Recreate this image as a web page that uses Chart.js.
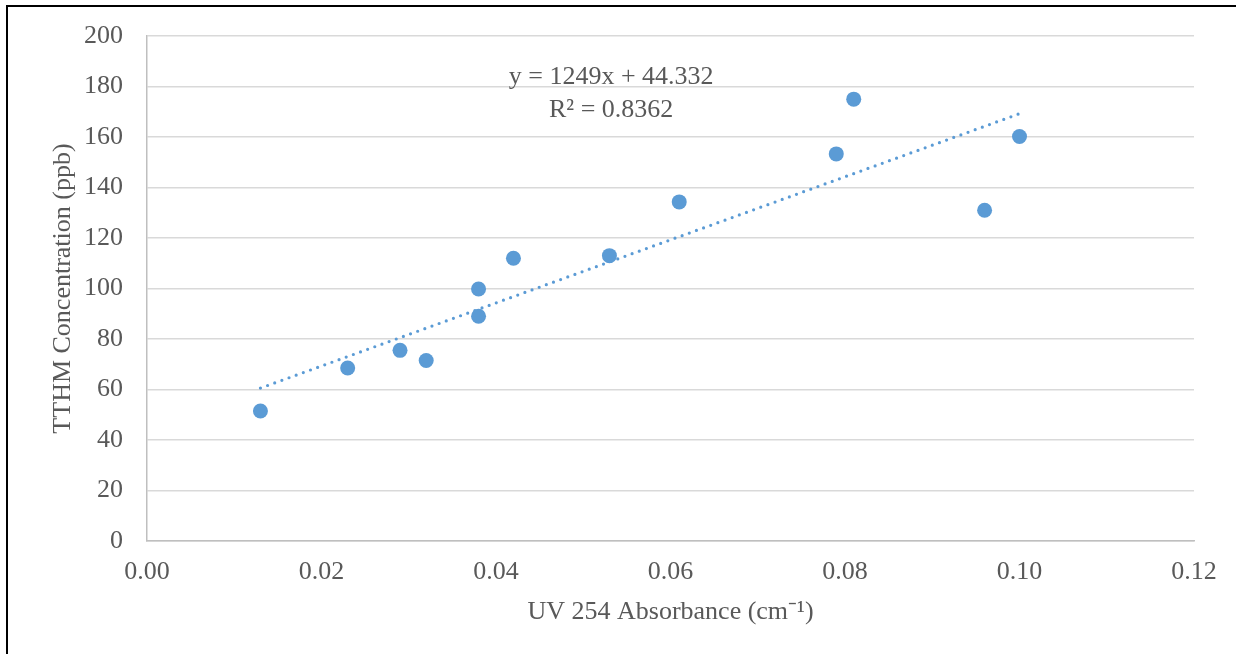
<!DOCTYPE html>
<html>
<head>
<meta charset="utf-8">
<script src="https://cdn.jsdelivr.net/npm/chart.js@4/dist/chart.umd.min.js"></script>
<style>
    html, body { margin: 0; padding: 0; background: #fff; }
    #wrap { position: relative; width: 1236px; height: 654px; }
    #frame { position: absolute; left: 6px; top: 5px; right: -10px; bottom: -10px; border-left: 2px solid #000; border-top: 2px solid #000; pointer-events: none; }
</style>
</head>
<body>
<div id="wrap">
    <canvas id="chart" width="1236" height="654"></canvas>
    <div id="frame"></div>
</div>
<script>
// UV254 absorbance (cm-1) vs TTHM concentration (ppb)
const absorbance = [0.013, 0.023, 0.029, 0.032, 0.038, 0.038, 0.042, 0.053, 0.061, 0.079, 0.081, 0.096, 0.100];
const tthm = [51.5, 68.5, 75.5, 71.5, 99.8, 89, 112, 113, 134.3, 153.3, 175, 131, 160.2];

// linear trendline from the reference
const slope = 1249;
const intercept = 44.332;
const trendX = [0.013, 0.100];
const eqText = 'y = 1249x + 44.332';
const r2Text = 'R² = 0.8362';

const blue = '#5b9bd5';
const textColor = '#595959';
const fontFamily = '"Liberation Serif", "Times New Roman", serif';
const fontSize = 26;

const points = absorbance.map((x, i) => ({ x: x, y: tthm[i] }));
const trend = trendX.map(x => ({ x: x, y: slope * x + intercept }));

const equationLabel = {
    id: 'equationLabel',
    afterDatasetsDraw(chart) {
        const ctx = chart.ctx;
        const xs = chart.scales.x;
        const ys = chart.scales.y;
        ctx.save();
        ctx.fillStyle = textColor;
        ctx.font = fontSize + 'px ' + fontFamily;
        ctx.textAlign = 'center';
        ctx.textBaseline = 'middle';
        ctx.fillText(eqText, xs.getPixelForValue(0.0532), ys.getPixelForValue(183.8));
        ctx.fillText(r2Text, xs.getPixelForValue(0.0532), ys.getPixelForValue(170.8));
        ctx.restore();
    }
};

const ctx = document.getElementById('chart').getContext('2d');
new Chart(ctx, {
    type: 'scatter',
    data: {
        datasets: [
            {
                label: 'TTHM',
                data: points,
                backgroundColor: blue,
                borderColor: blue,
                pointRadius: 7.5,
                pointHoverRadius: 7.5,
                borderWidth: 0
            },
            {
                label: 'Linear',
                type: 'line',
                data: trend,
                borderColor: blue,
                borderWidth: 3.2,
                borderDash: [0, 7.6],
                borderCapStyle: 'round',
                pointRadius: 0,
                fill: false
            }
        ]
    },
    options: {
        responsive: false,
        animation: false,
        layout: { padding: { left: 40, right: 42, top: 36, bottom: 22 } },
        plugins: {
            legend: { display: false },
            tooltip: { enabled: false }
        },
        scales: {
            x: {
                type: 'linear',
                min: 0,
                max: 0.12,
                afterFit: s => { s.height = 91; s.paddingLeft = 0; s.paddingRight = 0; },
                ticks: {
                    stepSize: 0.02,
                    color: textColor,
                    font: { family: fontFamily, size: fontSize },
                    padding: 16,
                    maxRotation: 0,
                    callback: v => v.toFixed(2)
                },
                grid: { display: false, drawTicks: false },
                border: { display: true, color: '#bfbfbf', width: 1.5 },
                title: {
                    display: true,
                    text: 'UV 254 Absorbance (cm⁻¹)',
                    color: textColor,
                    font: { family: fontFamily, size: fontSize },
                    padding: { top: 0, bottom: 4 }
                }
            },
            y: {
                min: 0,
                max: 200,
                afterFit: s => { s.width = 107; s.paddingTop = 0; s.paddingBottom = 0; },
                ticks: {
                    stepSize: 20,
                    color: textColor,
                    font: { family: fontFamily, size: fontSize },
                    padding: 24
                },
                grid: { color: '#d9d9d9', lineWidth: 1.5, drawTicks: false },
                border: { display: true, color: '#bfbfbf', width: 1.5 },
                title: {
                    display: true,
                    text: 'TTHM Concentration (ppb)',
                    color: textColor,
                    font: { family: fontFamily, size: fontSize },
                    padding: { top: 8, bottom: 0 }
                }
            }
        }
    },
    plugins: [equationLabel]
});
</script>
</body>
</html>
